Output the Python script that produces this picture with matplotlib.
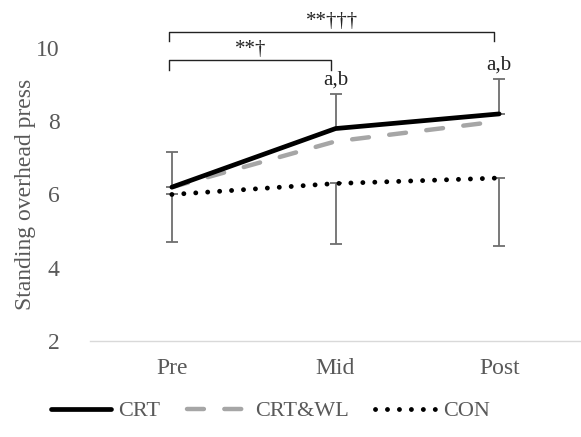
import matplotlib.pyplot as plt

# data
TIMEPOINTS = ["Pre", "Mid", "Post"]
CRT = [6.2, 7.8, 8.2]
CRT_WL = [6.2, 7.45, 8.0]
CON = [6.0, 6.3, 6.45]
CRT_SD_UP = [0.95, 0.95, 0.95]   # upper error bars drawn on CRT
CON_SD_DOWN = [1.3, 1.65, 1.85]  # lower error bars drawn on CON
SIG_LABELS = ["", "a,b", "a,b"]
BRACKETS = [(0, 1, 9.68, "**†"), (0, 2, 10.45, "**†††")]

GREY_TXT = "#595959"
plt.rcParams["font.family"] = ["Liberation Serif", "DejaVu Serif"]

fig = plt.figure(figsize=(5.81, 4.37), dpi=100)
ax = fig.add_axes([0.155, 0.2197, 0.845, 0.6705])
x = list(range(len(TIMEPOINTS)))

ax.errorbar(x, CRT, yerr=[[0] * 3, CRT_SD_UP], fmt="none", ecolor="#6e6e6e",
            elinewidth=1.3, capsize=4.3, capthick=1.3, zorder=1)
ax.errorbar(x, CON, yerr=[CON_SD_DOWN, [0] * 3], fmt="none", ecolor="#6e6e6e",
            elinewidth=1.3, capsize=4.3, capthick=1.3, zorder=1)

ax.plot(x, CRT, color="black", lw=3.4, solid_capstyle="round", label="CRT", zorder=4)
ax.plot(x, CRT_WL, color="#a6a6a6", lw=3.2, dashes=(3.8, 4.6), dash_capstyle="round",
        label="CRT&WL", zorder=3)
ax.plot(x, CON, color="black", lw=3.5, dashes=(0.01, 2.45), dash_capstyle="round",
        label="CON", zorder=2)

for i, lab in enumerate(SIG_LABELS):
    if lab:
        ax.text(i, CRT[i] + CRT_SD_UP[i] + 0.12, lab, ha="center", va="bottom",
                fontsize=15, color="#222222")

for x0, x1, yb, lab in BRACKETS:
    ax.plot([x0 - 0.02, x0 - 0.02, x1 - 0.03, x1 - 0.03], [yb - 0.27, yb, yb, yb - 0.27],
            color="#222222", lw=1.0, clip_on=False)
    ax.text((x0 + x1) / 2 - 0.02, yb + 0.02, lab, ha="center", va="bottom",
            fontsize=15, color="#222222")

ax.set_xlim(-0.5, 2.5)
ax.set_ylim(2, 10)
ax.set_yticks([2, 4, 6, 8, 10])
ax.set_xticks(x)
ax.set_xticklabels(TIMEPOINTS)
ax.tick_params(length=0, labelsize=17, labelcolor=GREY_TXT, pad=12)
ax.tick_params(axis="y", pad=22)
for side in ["top", "right", "left"]:
    ax.spines[side].set_visible(False)
ax.spines["bottom"].set_color("#d9d9d9")
ax.spines["bottom"].set_linewidth(1.0)
ax.set_ylabel("Standing overhead press", fontsize=17, color=GREY_TXT, labelpad=0)

fig.legend(loc="lower center", bbox_to_anchor=(0.465, -0.01), ncol=3, frameon=False,
           fontsize=16, labelcolor=GREY_TXT, handlelength=2.7, handletextpad=0.35,
           columnspacing=1.2)

fig.savefig("out.png", dpi=100)
